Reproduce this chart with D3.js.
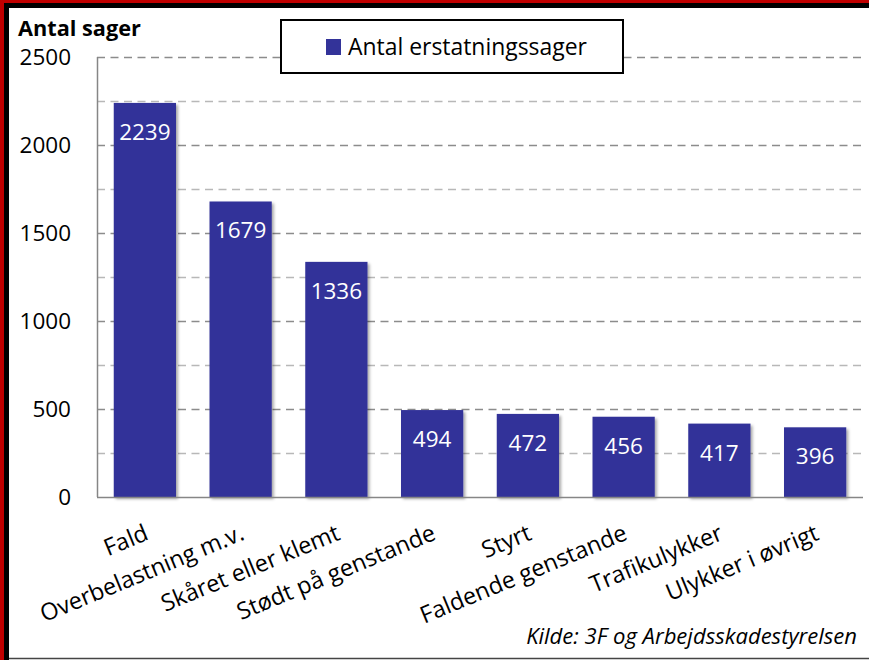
<!DOCTYPE html>
<html><head><meta charset="utf-8">
<script src="https://cdn.jsdelivr.net/npm/d3@7/dist/d3.min.js"></script>
<style>body{margin:0;background:#fff}svg{display:block}text{font-family:"Open Sans",Lato,sans-serif}</style>
</head><body>
<script>
const categories = ["Fald","Overbelastning m.v.","Skåret eller klemt","Stødt på genstande","Styrt","Faldende genstande","Trafikulykker","Ulykker i øvrigt"];
const values = [2239,1679,1336,494,472,456,417,396];
const tickValues = [0,500,1000,1500,2000,2500];
const gridValues = [250,500,750,1000,1250,1500,1750,2000,2250,2500];
const seriesName = "Antal erstatningssager";
const yTitle = "Antal sager";
const source = "Kilde: 3F og Arbejdsskadestyrelsen";

const W = 869, H = 660;
const svg = d3.select("body").append("svg").attr("width", W).attr("height", H);
const defs = svg.append("defs");
const f = defs.append("filter").attr("id","sh").attr("x","-20%").attr("y","-20%").attr("width","150%").attr("height","150%");
f.append("feDropShadow").attr("dx",2).attr("dy",2).attr("stdDeviation",1.5).attr("flood-color","#000").attr("flood-opacity",0.35);

function fit(sel, target){
  const n = sel.node(); const s = +sel.attr("font-size");
  const len = n.getComputedTextLength();
  if (len>0) sel.attr("font-size", (s*target/len).toFixed(2));
  return sel;
}

// frame
svg.append("rect").attr("x",0).attr("y",0).attr("width",W).attr("height",H).attr("fill","#fff");
svg.append("rect").attr("x",0).attr("y",0).attr("width",W).attr("height",4).attr("fill","#c00000");
svg.append("rect").attr("x",0).attr("y",0).attr("width",4).attr("height",H).attr("fill","#c00000");
svg.append("rect").attr("x",4).attr("y",3).attr("width",W-4).attr("height",5).attr("fill","#000");
svg.append("rect").attr("x",4).attr("y",3).attr("width",5).attr("height",H-3).attr("fill","#000");
svg.append("line").attr("x1",9).attr("x2",W).attr("y1",658.5).attr("y2",658.5).attr("stroke","#444").attr("stroke-width",1.5);

const x0 = 97, x1 = 863, yTop = 57, yBot = 497;
const x = d3.scaleBand().domain(categories).range([x0,x1]).paddingInner(0.35).paddingOuter(0.175);
const y = d3.scaleLinear().domain([0,2500]).range([yBot,yTop]);

// grid
svg.append("g").selectAll("line").data(gridValues).join("line")
  .attr("x1",x0).attr("x2",x1).attr("y1",d=>y(d)+0.5).attr("y2",d=>y(d)+0.5)
  .attr("stroke",d=>d%500===0?"#8c8c8c":"#b8b8b8").attr("stroke-width",1.5).attr("stroke-dasharray","8,5.5");

// bars
svg.append("g").selectAll("rect").data(values).join("rect")
  .attr("x",(d,i)=>x(categories[i])).attr("width",x.bandwidth())
  .attr("y",d=>y(d)).attr("height",d=>yBot-y(d))
  .attr("fill","#333399").attr("filter","url(#sh)");

// axes lines
svg.append("line").attr("x1",x0+0.5).attr("x2",x0+0.5).attr("y1",yTop).attr("y2",yBot).attr("stroke","#868686").attr("stroke-width",1.5);
svg.append("line").attr("x1",x0).attr("x2",x1).attr("y1",yBot+0.5).attr("y2",yBot+0.5).attr("stroke","#868686").attr("stroke-width",1.5);

// value labels
svg.append("g").selectAll("text").data(values).join("text")
  .attr("x",(d,i)=>x(categories[i])+x.bandwidth()/2).attr("y",d=>y(d)+37)
  .attr("text-anchor","middle").attr("fill","#fff").attr("font-size",22.5).text(d=>d);

// y ticks
svg.append("g").selectAll("text").data(tickValues).join("text")
  .attr("x",71).attr("y",d=>y(d)).attr("dy","0.36em").attr("text-anchor","end")
  .attr("font-size",22.5).attr("fill","#000").text(d=>d);

// title
fit(svg.append("text").attr("x",18).attr("y",36).attr("font-size",20).attr("font-weight","bold").text(yTitle), 123);

// x labels
const xl = svg.append("g").selectAll("text").data(categories).join("text")
  .attr("transform",d=>`translate(${x(d)+x.bandwidth()/2+5},${539}) rotate(-22.5)`)
  .attr("text-anchor","end").attr("font-size",20).text(d=>d);
{
  const n = xl.nodes()[1]; const len = n.getComputedTextLength();
  xl.attr("font-size", (20*218/len).toFixed(2));
}

// legend
svg.append("rect").attr("x",281).attr("y",20).attr("width",342).attr("height",53).attr("fill","#fff").attr("stroke","#000").attr("stroke-width",2);
svg.append("rect").attr("x",326).attr("y",39).attr("width",15).attr("height",16).attr("fill","#333399");
fit(svg.append("text").attr("x",348).attr("y",55).attr("font-size",20).text(seriesName), 239);

// source
fit(svg.append("text").attr("x",857).attr("y",644).attr("text-anchor","end").attr("font-size",18).attr("font-style","italic").text(source), 331);
</script>
</body></html>
